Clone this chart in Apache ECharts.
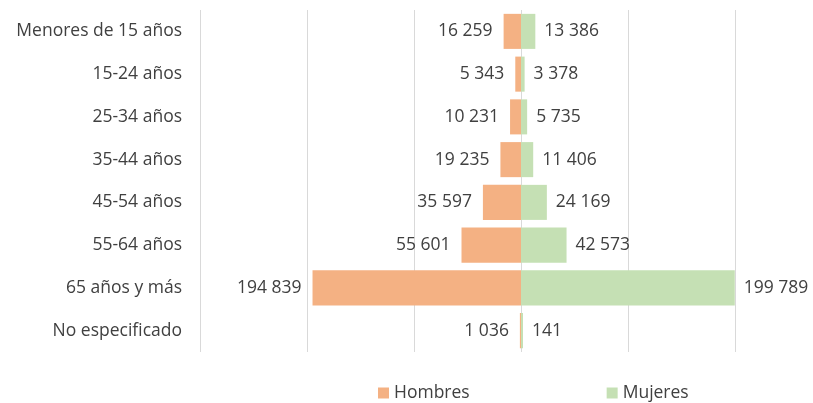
<!DOCTYPE html>
<html>
<head>
<meta charset="utf-8">
<script src="https://cdn.jsdelivr.net/npm/echarts@6/dist/echarts.min.js"></script>
<style>
  html, body { margin: 0; padding: 0; background: #fff; }
  #chart { width: 813px; height: 403px; }
</style>
</head>
<body>
<div id="chart"></div>
<script>
// grupos de edad
const categorias = ['Menores de 15 años', '15-24 años', '25-34 años', '35-44 años',
  '45-54 años', '55-64 años', '65 años y más', 'No especificado']
const hombres = [16259, 5343, 10231, 19235, 35597, 55601, 194839, 1036]
const mujeres = [13386, 3378, 5735, 11406, 24169, 42573, 199789, 141]

// 194839 -> "194 839"
const fmt = v => Math.abs(v).toString().replace(/\B(?=(\d{3})+(?!\d))/g, ' ')

const fuente = '"Open Sans", Lato, sans-serif'
const tam = 17.5
const chart = echarts.init(document.getElementById('chart'))

const option = {
  animation: false,
  textStyle: { fontFamily: fuente },
  grid: { left: 200, right: 78, top: 10, bottom: 51 },
  legend: {
    bottom: -4,
    left: 373,
    itemWidth: 11,
    itemHeight: 11,
    itemGap: 137,
    icon: 'rect',
    textStyle: { fontSize: tam, color: '#404040', fontFamily: fuente },
    data: ['Hombres', 'Mujeres']
  },
  xAxis: {
    type: 'value',
    min: -300000,
    max: 200000,
    interval: 100000,
    axisLabel: { show: false },
    axisLine: { show: false },
    axisTick: { show: false },
    splitLine: { lineStyle: { color: '#d9d9d9', width: 1 } }
  },
  yAxis: {
    type: 'category',
    inverse: true,
    data: categorias,
    axisLine: { show: false },
    axisTick: { show: false },
    axisLabel: {
      margin: 18,
      fontSize: tam,
      color: '#404040',
      fontFamily: fuente,
      padding: [4, 0, 0, 0]
    }
  },
  series: [
    {
      name: 'Hombres',
      type: 'bar',
      stack: 'total',
      barCategoryGap: '18%',
      itemStyle: { color: '#F4B183' },
      label: {
        show: true,
        position: 'left',
        distance: 11,
        fontSize: tam,
        color: '#404040',
        fontFamily: fuente,
        padding: [3, 0, 0, 0],
        formatter: p => fmt(p.value)
      },
      data: hombres.map(v => -v)
    },
    {
      name: 'Mujeres',
      type: 'bar',
      stack: 'total',
      barCategoryGap: '18%',
      barMinHeight: 2,
      itemStyle: { color: '#C5E0B4' },
      label: {
        show: true,
        position: 'right',
        distance: 9,
        fontSize: tam,
        color: '#404040',
        fontFamily: fuente,
        padding: [3, 0, 0, 0],
        formatter: p => fmt(p.value)
      },
      data: mujeres
    }
  ]
}

chart.setOption(option)
</script>
</body>
</html>
